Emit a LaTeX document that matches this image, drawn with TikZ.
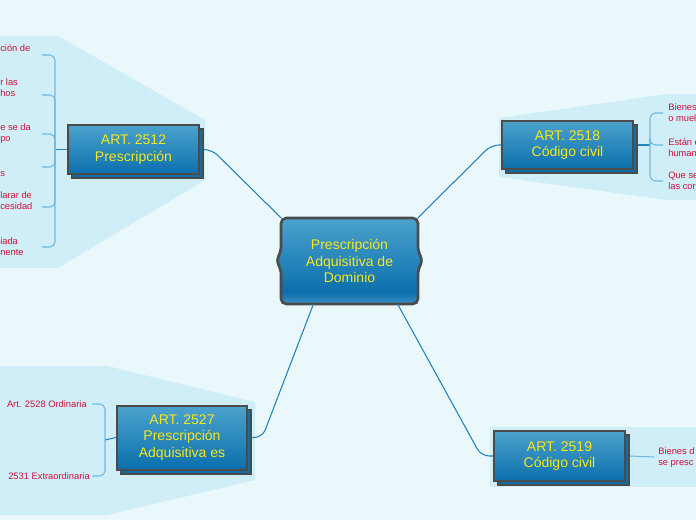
\documentclass[tikz,border=0pt]{standalone}
\usepackage{fontspec}
\setmainfont{Liberation Sans}
\usetikzlibrary{shadows}

\definecolor{paper}{HTML}{EAF8FB}
\definecolor{groupbg}{HTML}{CFEEF8}
\definecolor{boxline}{HTML}{4B4B4B}
\definecolor{boxtop}{HTML}{4BA3CD}
\definecolor{boxbot}{HTML}{0C6FAC}
\definecolor{boxband}{HTML}{3A8FC2}
\definecolor{boxtext}{HTML}{F8E71C}
\definecolor{leafred}{HTML}{D0103A}
\definecolor{linkblue}{HTML}{1F84BC}
\definecolor{twigblue}{HTML}{6DBBE2}

\pgfdeclareverticalshading{censhade}{100bp}{color(0bp)=(boxband); color(25bp)=(boxband);
  color(32bp)=(boxbot); color(75bp)=(boxtop); color(100bp)=(boxtop)}

\tikzset{
  subbox/.style={draw=boxline, line width=1.5pt, top color=boxtop, bottom color=boxbot,
    text=boxtext, align=center, font=\fontsize{10.5}{12.4}\selectfont,
    minimum width=98pt, inner sep=0pt,
    general shadow={shadow xshift=3pt, shadow yshift=-3pt, fill=boxbot, draw=boxline, line width=1.5pt}},
  centext/.style={text=boxtext, align=center, font=\fontsize{10.5}{12.4}\selectfont,
    minimum width=102pt, minimum height=64pt, inner sep=0pt},
  leaf/.style={text=leafred, align=left, font=\fontsize{7}{8.3}\selectfont, inner sep=0pt},
  branch/.style={draw=linkblue, line width=0.8pt, rounded corners=6pt},
  twig/.style={draw=twigblue, line width=0.8pt, rounded corners=4pt}
}

\begin{document}
\begin{tikzpicture}[x=0.75pt, y=-0.75pt]
	\fill[paper] (0,0) rectangle (696,520);
	\useasboundingbox (0,0) rectangle (696,520);
	% group backgrounds
	\fill[groupbg] (-5,36) -- (58,36) -- (205,120) -- (205,180) -- (58,268) -- (-5,268) -- cycle;
	\fill[groupbg] (499,118) -- (667,94) -- (700,94) -- (700,200) -- (667,200) -- (499,177) -- cycle;
	\fill[groupbg] (-5,366) -- (107,366) -- (255,402) -- (255,480) -- (107,515) -- (-5,515) -- cycle;
	\fill[groupbg] (490,427) rectangle (700,487);

	% central topic
	\path[shading=censhade, draw=boxline, line width=2pt, rounded corners=4pt]
		(281,218) -- (418,218) -- (418,252) -- (423,260.5) -- (418,269) -- (418,304)
		-- (281,304) -- (281,269) -- (276,260.5) -- (281,252) -- cycle;
	\node[centext] (cen) at (349.5,261) {Prescripción\\Adquisitiva de\\Dominio};

	\node[subbox, minimum height=37pt] (b2512) at (133.5,149.5) {ART. 2512\\Prescripción};
	\node[subbox, minimum height=36.5pt] (b2518) at (567.5,145) {ART. 2518\\Código civil};
	\node[subbox, minimum height=48pt] (b2527) at (182,437.5) {ART. 2527\\Prescripción\\Adquisitiva es};
	\node[subbox, minimum height=38pt] (b2519) at (559.5,456) {ART. 2519\\Código civil};

	\draw[branch] ([xshift=3pt]b2512.east) -- ++(8,0) -- (cen.north west);
	\draw[branch] (b2518.west) -- ++(-10,0) -- (cen.north east);
	\draw[branch] ([xshift=3pt]b2527.east) -- ++(10,0) -- ([xshift=-27pt]cen.south);
	\draw[branch] (b2519.west) -- ++(-12,0) -- ([xshift=36pt]cen.south);

	% ART. 2512
	\coordinate (j2512) at (55,149.5);
	\draw[branch] (b2512.west) -- (j2512);
	\node[leaf, anchor=west] (p1) at (0,48) {ción de};
	\node[leaf, anchor=west] (p2) at (0,87.5) {r las\\hos};
	\node[leaf, anchor=west] (p3) at (0,133.5) {e se da\\po};
	\node[leaf, anchor=west] (p4) at (0,174) {s};
	\node[leaf, anchor=west] (p5) at (0,201) {larar de\\cesidad};
	\node[leaf, anchor=west] (p6) at (0,246.5) {iada\\nente};
	\foreach \y [count=\i] in {55,95,134,167,207,247}
		\coordinate (t\i) at (42,\y);
	\foreach \i in {1,...,6}
		\draw[twig] (j2512) |- (t\i);

	% ART. 2518
	\coordinate (j2518) at (650,145);
	\draw[branch] ([xshift=3pt]b2518.east) -- (j2518);
	\node[leaf, anchor=west] (c1) at (668,112.5) {Bienes\\o muel};
	\node[leaf, anchor=west] (c2) at (668,147.5) {Están e\\human};
	\node[leaf, anchor=west] (c3) at (668,180.5) {Que se\\las cor};
	\coordinate (u1) at (663,113);
	\coordinate (u2) at (663,145);
	\coordinate (u3) at (663,181);
	\foreach \i in {1,2,3}
		\draw[twig] (j2518) |- (u\i);

	% ART. 2527
	\coordinate (j2527) at (105,440);
	\draw[branch] (b2527.west) -- (j2527);
	\node[leaf, anchor=east] (e1) at (87,404) {Art. 2528 Ordinaria};
	\node[leaf, anchor=east] (e2) at (90,476) {2531 Extraordinaria};
	\coordinate (v1) at (92,404);
	\coordinate (v2) at (92,476);
	\draw[twig] (j2527) |- (v1);
	\draw[twig] (j2527) |- (v2);

	% ART. 2519
	\node[leaf, anchor=west] (s1) at (658,458) {Bienes d\\se presc};
	\coordinate (w1) at (654,457);
	\draw[twig] ([xshift=3pt]b2519.east) -- (w1);
\end{tikzpicture}
\end{document}
